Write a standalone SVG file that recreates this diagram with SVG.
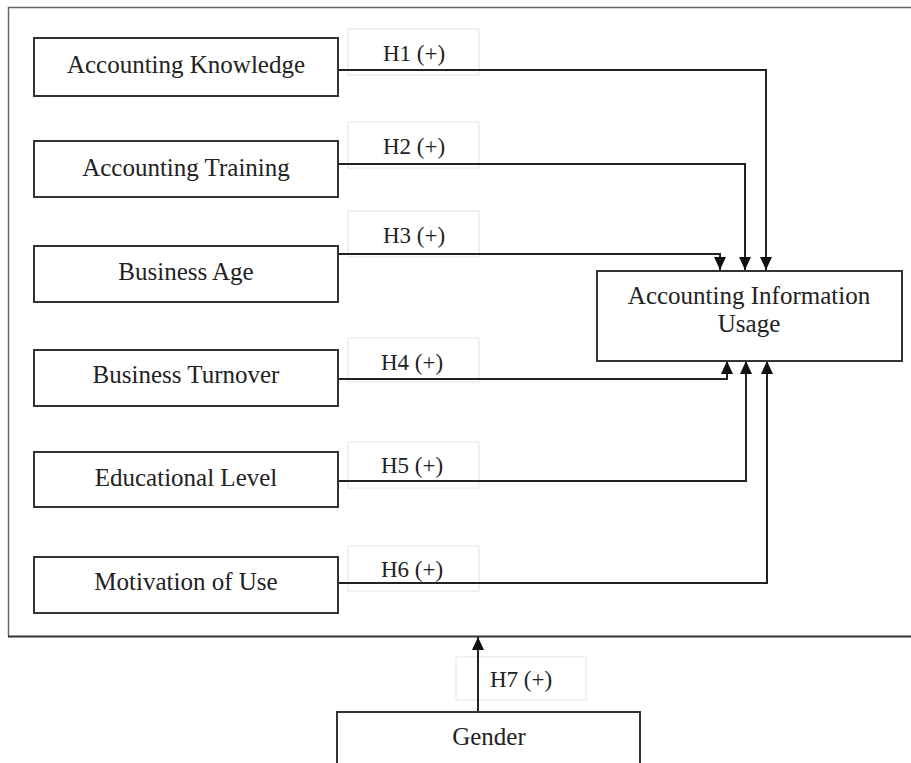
<svg xmlns="http://www.w3.org/2000/svg" width="911" height="763" viewBox="0 0 911 763">
<style>
.node{fill:#fff;stroke:#333;stroke-width:2}
.lbl{fill:#fff;stroke:#e4e4e4;stroke-width:1}
.t{font-family:"Liberation Serif","Times New Roman",serif;font-size:25px;fill:#222;text-anchor:middle}
.h{font-family:"Liberation Serif","Times New Roman",serif;font-size:23px;fill:#222;text-anchor:middle}
.c{fill:none;stroke:#222;stroke-width:2}
</style>
<defs>
<marker id="arr" markerUnits="userSpaceOnUse" markerWidth="14" markerHeight="14" viewBox="0 0 14 14" refX="13" refY="7" orient="auto">
<path d="M0,1 L13,7 L0,13 Z" fill="#111"/>
</marker>
</defs>
<rect width="911" height="763" fill="#fff"/>
<g id="frame">
<path d="M911,7.5 H8.5 V636" fill="none" stroke="#666" stroke-width="1.5"/>
<line x1="8" y1="636.5" x2="911" y2="636.5" stroke="#333" stroke-width="2"/>
</g>
<g id="labels">
<rect class="lbl" x="348" y="29" width="131" height="46"/>
<rect class="lbl" x="348" y="122" width="131" height="46"/>
<rect class="lbl" x="348" y="211" width="131" height="46"/>
<rect class="lbl" x="348" y="338" width="131" height="44"/>
<rect class="lbl" x="348" y="442" width="131" height="46"/>
<rect class="lbl" x="348" y="546" width="131" height="45"/>
<rect class="lbl" x="456" y="657" width="130" height="43"/>
<text class="h" x="414" y="61">H1 (+)</text>
<text class="h" x="414" y="154">H2 (+)</text>
<text class="h" x="414" y="243">H3 (+)</text>
<text class="h" x="412" y="370">H4 (+)</text>
<text class="h" x="412" y="473">H5 (+)</text>
<text class="h" x="412" y="577">H6 (+)</text>
<text class="h" x="521" y="687">H7 (+)</text>
</g>
<g id="connectors">
<path class="c" d="M338,70 H766 V270" marker-end="url(#arr)"/>
<path class="c" d="M338,164 H745 V270" marker-end="url(#arr)"/>
<path class="c" d="M338,254 H720 V270" marker-end="url(#arr)"/>
<path class="c" d="M338,379 H727 V361" marker-end="url(#arr)"/>
<path class="c" d="M338,481 H746 V361" marker-end="url(#arr)"/>
<path class="c" d="M338,583 H767 V361" marker-end="url(#arr)"/>
<path class="c" d="M478,712 V637" marker-end="url(#arr)"/>
</g>
<g id="n-knowledge"><rect class="node" x="34" y="38" width="304" height="58"/><text class="t" x="186" y="73">Accounting Knowledge</text></g>
<g id="n-training"><rect class="node" x="34" y="141" width="304" height="56"/><text class="t" x="186" y="176">Accounting Training</text></g>
<g id="n-age"><rect class="node" x="34" y="246" width="304" height="56"/><text class="t" x="186" y="280">Business Age</text></g>
<g id="n-turnover"><rect class="node" x="34" y="350" width="304" height="56"/><text class="t" x="186" y="383">Business Turnover</text></g>
<g id="n-education"><rect class="node" x="34" y="452" width="304" height="55"/><text class="t" x="186" y="486">Educational Level</text></g>
<g id="n-motivation"><rect class="node" x="34" y="557" width="304" height="56"/><text class="t" x="186" y="590">Motivation of Use</text></g>
<g id="n-usage"><rect class="node" x="597" y="271" width="305" height="90"/><text class="t" x="749" y="304">Accounting Information</text><text class="t" x="749" y="332">Usage</text></g>
<g id="n-gender"><rect class="node" x="337" y="712" width="303" height="70"/><text class="t" x="489" y="745">Gender</text></g>
</svg>
